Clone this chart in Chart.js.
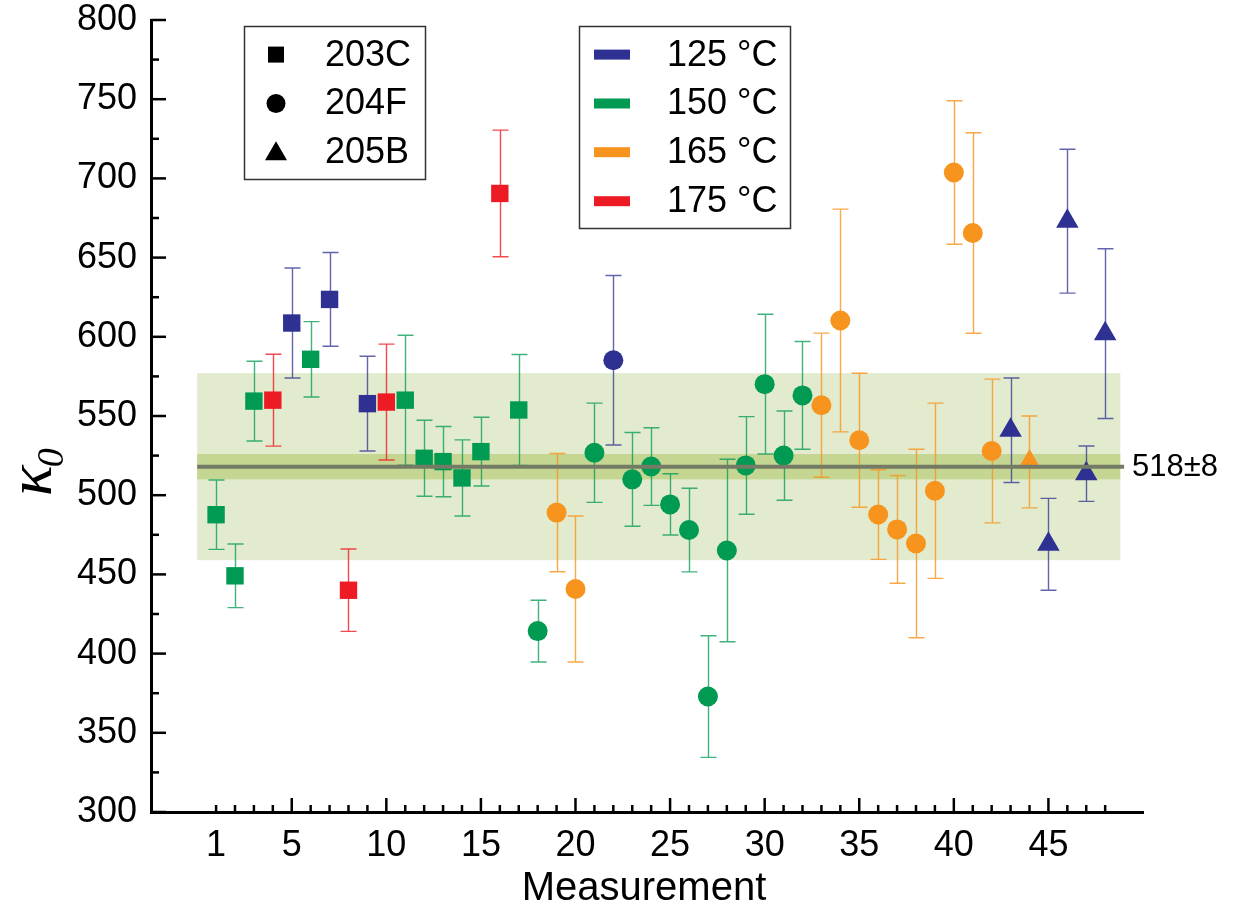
<!DOCTYPE html>
<html><head><meta charset="utf-8">
<script src="https://cdn.jsdelivr.net/npm/chart.js@4.4.1/dist/chart.umd.min.js"></script>
<style>html,body{margin:0;padding:0;background:#fff;}canvas{display:block;}</style>
</head><body>
<canvas id="c" width="1235" height="915"></canvas>
<script>
// ---------- data ----------
const measurements = [1,2,3,4,5,6,7,8,9,10,11,12,13,14,15,16,17,18,19,20,21,22,23,24,25,26,27,28,29,30,31,32,33,34,35,36,37,38,39,40,41,42,43,44,45,46,47,48];
const kappa = [487.7,449.1,559.4,560.0,608.7,585.8,623.6,440.0,557.8,558.8,
               560.0,523.3,521.2,510.9,527.5,690.5,553.8,414.2,489.0,440.8,
               526.8,585.2,510.0,518.1,494.2,478.0,372.9,465.1,518.8,570.1,
               525.0,563.0,556.8,610.3,534.7,487.8,478.4,469.5,502.8,703.7,
               665.5,527.9,541.0,521.0,469.0,673.0,513.6,602.0];
const kappaErr = [21.9,20.1,25.2,29.0,34.7,23.8,29.6,26.0,29.9,36.6,
                  41.0,24.0,22.2,24.0,21.7,40.0,35.0,19.5,37.3,46.1,
                  31.3,53.5,29.6,24.5,19.3,26.4,38.4,57.6,30.8,44.1,
                  28.2,34.0,45.5,70.3,42.3,28.3,34.0,59.5,55.3,45.3,
                  63.3,45.4,33.0,29.0,29.0,45.4,17.5,53.6];
const temperatureC = [150,150,150,175,125,150,125,175,125,175,
                      150,150,150,150,150,175,150,150,165,165,
                      150,125,150,150,150,150,150,150,150,150,
                      150,150,165,165,165,165,165,165,165,165,
                      165,165,125,165,125,125,125,125];
const sampleId = ['203C','203C','203C','203C','203C','203C','203C','203C','203C','203C',
                  '203C','203C','203C','203C','203C','203C','203C','204F','204F','204F',
                  '204F','204F','204F','204F','204F','204F','204F','204F','204F','204F',
                  '204F','204F','204F','204F','204F','204F','204F','204F','204F','204F',
                  '204F','204F','205B','205B','205B','205B','205B','205B'];
const sampleNames = ['203C','204F','205B'];
const temperatureNames = [125,150,165,175];
const xTickLabels = [1,5,10,15,20,25,30,35,40,45];
const meanKappa = 518;
const meanKappaErr = 8;
const spreadHalf = 59;
const meanLabel = '518±8';

// ---------- styles ----------
const tempColor = {125:'#2E3192',150:'#009A52',165:'#F7941D',175:'#ED1C24'};
const tempErrColor = {125:'rgba(46,49,146,0.75)',150:'rgba(0,154,82,0.75)',165:'rgba(247,148,29,0.8)',175:'rgba(237,28,36,0.8)'};
const shapeOf = {'203C':'rect','204F':'circle','205B':'triangle'};
const radiusOf = {'rect':12.3,'circle':10,'triangle':13};
const FONT = '"Liberation Sans", Arial, sans-serif';

// ---------- datasets ----------
const datasets = [];
temperatureNames.forEach(t => {
  sampleNames.forEach(s => {
    const pts = [], errs = [];
    measurements.forEach((m, i) => {
      if (temperatureC[i] === t && sampleId[i] === s) { pts.push({x: m, y: kappa[i]}); errs.push(kappaErr[i]); }
    });
    if (!pts.length) return;
    const shape = shapeOf[s];
    datasets.push({
      label: s + ' ' + t + ' °C', data: pts, errs: errs, errColor: tempErrColor[t],
      pointStyle: shape, pointRadius: radiusOf[shape], pointHoverRadius: radiusOf[shape],
      backgroundColor: tempColor[t], borderColor: tempColor[t], pointBorderWidth: 0, showLine: false
    });
  });
});

// ---------- plugin: band, error bars, line, ticks, legends, titles ----------
const decor = {
  id: 'decor',
  beforeDatasetsDraw(chart) {
    const ctx = chart.ctx, xs = chart.scales.x, ys = chart.scales.y;
    ctx.save();
    const x0 = xs.getPixelForValue(0), x1 = xs.getPixelForValue(48.8);
    ctx.fillStyle = 'rgb(226,235,205)';
    const yA = ys.getPixelForValue(meanKappa + spreadHalf), yB = ys.getPixelForValue(meanKappa - spreadHalf);
    ctx.fillRect(x0, yA, x1 - x0, yB - yA);
    ctx.fillStyle = 'rgb(197,214,147)';
    const yC = ys.getPixelForValue(meanKappa + meanKappaErr), yD = ys.getPixelForValue(meanKappa - meanKappaErr);
    ctx.fillRect(x0, yC, x1 - x0, yD - yC);
    chart.data.datasets.forEach((ds, di) => {
      const meta = chart.getDatasetMeta(di);
      ctx.strokeStyle = ds.errColor; ctx.lineWidth = 1.4;
      meta.data.forEach((el, i) => {
        const v = ds.data[i].y, e = ds.errs[i];
        const yt = ys.getPixelForValue(v + e), yb = ys.getPixelForValue(v - e);
        const x = Math.round(el.x) + 0.5;
        ctx.beginPath();
        ctx.moveTo(x, yt); ctx.lineTo(x, yb);
        ctx.moveTo(x - 8, yt); ctx.lineTo(x + 8, yt);
        ctx.moveTo(x - 8, yb); ctx.lineTo(x + 8, yb);
        ctx.stroke();
      });
    });
    ctx.restore();
  },
  afterDatasetsDraw(chart) {
    const ctx = chart.ctx, xs = chart.scales.x, ys = chart.scales.y, ca = chart.chartArea;
    ctx.save();
    const yM = ys.getPixelForValue(meanKappa);
    ctx.strokeStyle = 'rgb(115,123,100)'; ctx.lineWidth = 4;
    ctx.beginPath(); ctx.moveTo(xs.getPixelForValue(0), yM); ctx.lineTo(xs.getPixelForValue(49), yM); ctx.stroke();
    ctx.fillStyle = '#000'; ctx.font = '31px ' + FONT; ctx.textBaseline = 'middle'; ctx.textAlign = 'left';
    ctx.fillText(meanLabel, xs.getPixelForValue(49) + 8, yM + 1);
    ctx.strokeStyle = '#000'; ctx.lineWidth = 2.5;
    for (let m = 1; m <= 48; m++) {
      const x = xs.getPixelForValue(m), len = (m % 5 === 0) ? 14 : 7;
      ctx.beginPath(); ctx.moveTo(x, ca.bottom); ctx.lineTo(x, ca.bottom - len); ctx.stroke();
    }
    for (let v = 300; v <= 800; v += 25) {
      const y = ys.getPixelForValue(v), len = (v % 50 === 0) ? 15 : 8;
      ctx.beginPath(); ctx.moveTo(ca.left, y); ctx.lineTo(ca.left + len, y); ctx.stroke();
    }
    // legend 1 (samples)
    ctx.lineWidth = 1.5; ctx.strokeStyle = '#333';
    ctx.strokeRect(244.5, 26.5, 181, 153);
    const rows = [54.6, 103.5, 152.2, 201.2];
    ctx.fillStyle = '#000';
    sampleNames.forEach((s, i) => {
      const y = rows[i], cx = 276;
      ctx.beginPath();
      if (shapeOf[s] === 'rect') ctx.rect(cx - 8, y - 8, 16, 16);
      else if (shapeOf[s] === 'circle') ctx.arc(cx, y, 9.5, 0, Math.PI * 2);
      else { ctx.moveTo(cx, y - 11); ctx.lineTo(cx + 11, y + 8); ctx.lineTo(cx - 11, y + 8); ctx.closePath(); }
      ctx.fill();
    });
    ctx.font = '36px ' + FONT; ctx.textBaseline = 'middle';
    sampleNames.forEach((s, i) => ctx.fillText(s, 325, rows[i] + 1));
    // legend 2 (temperatures)
    ctx.strokeRect(579.5, 26.5, 211, 202);
    temperatureNames.forEach((t, i) => {
      ctx.fillStyle = tempColor[t];
      ctx.fillRect(594, rows[i] - 5, 36, 10);
      ctx.fillStyle = '#000';
      ctx.fillText(t + ' °C', 667, rows[i] + 1);
    });
    // x title
    ctx.font = '40px ' + FONT; ctx.textAlign = 'center'; ctx.textBaseline = 'middle';
    ctx.fillText('Measurement', 644, 889);
    // y title κ0
    ctx.translate(51, 472); ctx.rotate(-Math.PI / 2);
    ctx.textAlign = 'left'; ctx.textBaseline = 'alphabetic';
    ctx.font = 'italic 64px "Liberation Serif", "DejaVu Serif", serif';
    const w = ctx.measureText('κ').width;
    ctx.fillText('κ', -24, 0);
    ctx.font = 'italic 38px "Liberation Serif", "DejaVu Serif", serif';
    ctx.fillText('0', -24 + w - 2, 12);
    ctx.restore();
  }
};

new Chart(document.getElementById('c'), {
  type: 'scatter',
  data: { datasets },
  options: {
    responsive: false, animation: false, devicePixelRatio: 1,
    layout: { padding: { left: 0, right: 92, top: 20, bottom: 0 } },
    plugins: { legend: { display: false }, tooltip: { enabled: false } },
    scales: {
      x: {
        type: 'linear', min: -2.44, max: 50,
        grid: { display: false, drawTicks: false },
        border: { display: true, color: '#000', width: 3 },
        afterBuildTicks: (s) => { s.ticks = xTickLabels.map(v => ({ value: v })); },
        afterFit: (s) => { s.height = 103; s.paddingLeft = 0; s.paddingRight = 0; },
        ticks: { autoSkip: false, maxRotation: 0, padding: 12, color: '#000', font: { family: FONT, size: 36 },
                 callback: (v) => String(v) }
      },
      y: {
        type: 'linear', min: 300, max: 800,
        grid: { display: false, drawTicks: false },
        border: { display: true, color: '#000', width: 3 },
        afterFit: (s) => { s.width = 151; s.paddingTop = 0; s.paddingBottom = 0; },
        ticks: { stepSize: 50, padding: 14, color: '#000', font: { family: FONT, size: 36 } }
      }
    }
  },
  plugins: [decor]
});
</script>
</body></html>
